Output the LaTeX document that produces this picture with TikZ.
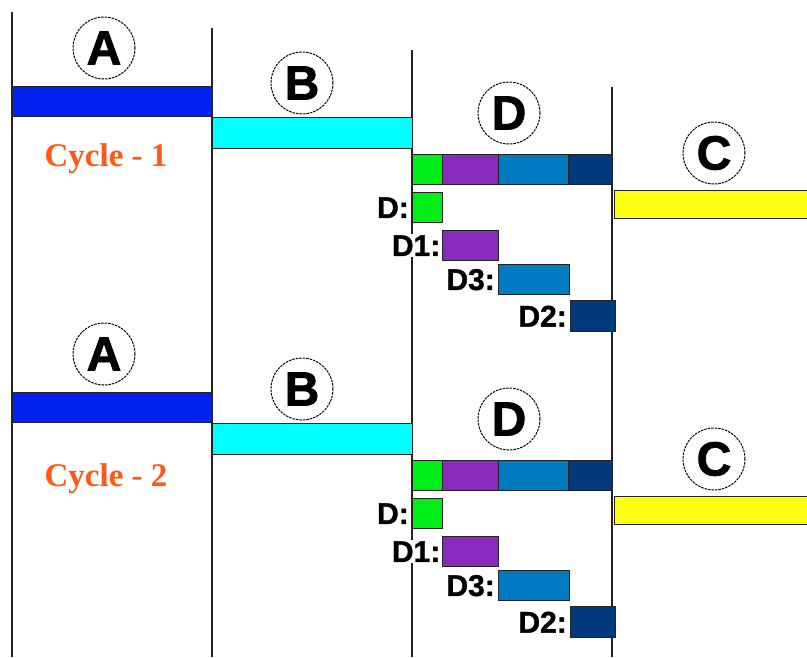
\documentclass[tikz,border=0pt]{standalone}
\usepackage{fontspec}
\setmainfont{Liberation Serif}
\newfontfamily\lsans{Liberation Sans}[BoldFeatures={FakeBold=1.6}]
\newfontfamily\lsanslbl{Liberation Sans}[BoldFeatures={FakeBold=1.2}]
\definecolor{barA}{RGB}{0,34,240}
\definecolor{barB}{RGB}{0,255,255}
\definecolor{barG}{RGB}{0,238,24}
\definecolor{barP}{RGB}{136,42,190}
\definecolor{barM}{RGB}{0,122,192}
\definecolor{barK}{RGB}{0,58,124}
\definecolor{barY}{RGB}{255,255,17}
\definecolor{cyc}{RGB}{255,88,20}
\definecolor{lin}{RGB}{35,35,35}
\tikzset{
  vline/.style={draw=lin, line width=1.3pt},
  bar/.style={draw=lin, line width=1.3pt, rectangle, inner sep=0pt, anchor=north west},
  circ/.style={circle, draw=black, line width=1pt, dash pattern=on 2.5pt off 1pt, minimum size=62pt, inner sep=0pt, font=\lsans\bfseries\fontsize{48}{48}\selectfont},
  lbl/.style={fill=white, inner sep=1pt, anchor=east, font=\lsanslbl\bfseries\fontsize{30}{30}\selectfont},
  cyclbl/.style={text=cyc, anchor=base, inner sep=0pt, font=\bfseries\fontsize{33}{33}\selectfont}
}
\begin{document}
\begin{tikzpicture}[x=1pt,y=-1pt]
\clip (0,0) rectangle (807,657);
\fill[white] (0,0) rectangle (807,657);
% vertical lines
\coordinate (v1t) at (12,12);  \coordinate (v1b) at (12,657);
\coordinate (v2t) at (212,28); \coordinate (v2b) at (212,657);
\coordinate (v3t) at (412,50); \coordinate (v3b) at (412,657);
\coordinate (v4t) at (612,87); \coordinate (v4b) at (612,657);
\draw[vline] (v1t) -- (v1b);
\draw[vline] (v2t) -- (v2b);
\draw[vline] (v3t) -- (v3b);
\draw[vline] (v4t) -- (v4b);
\foreach \c/\dy/\ty in {1/0/0, 2/306/320}{
  % circles
  \node[circ] (cA\c) at (104,48+\dy) {A};
  \node[circ] (cB\c) at (302,83+\dy) {B};
  \node[circ] (cD\c) at (509,113+\dy) {D};
  \node[circ] (cC\c) at (714,153+\dy) {C};
  % main bars
  \node[bar, fill=barA, minimum width=200pt, minimum height=30pt] (bA\c) at (12,86+\dy) {};
  \node[bar, fill=barB, minimum width=200pt, minimum height=31pt] (bB\c) at (212,117+\dy) {};
  \node[bar, fill=barG, minimum width=30pt, minimum height=30pt] (sG\c) at (412,154+\dy) {};
  \node[bar, fill=barP, minimum width=56pt, minimum height=30pt] (sP\c) at (442,154+\dy) {};
  \node[bar, fill=barM, minimum width=70pt, minimum height=30pt] (sM\c) at (498,154+\dy) {};
  \node[bar, fill=barK, minimum width=44pt, minimum height=30pt] (sK\c) at (568,154+\dy) {};
  \node[bar, fill=barY, minimum width=220pt, minimum height=28pt] (bC\c) at (614,190+\dy) {};
  % sub bars
  \node[bar, fill=barG, minimum width=30pt, minimum height=30pt] (d0\c) at (412,192+\dy) {};
  \node[bar, fill=barP, minimum width=56pt, minimum height=30pt] (d1\c) at (442,230+\dy) {};
  \node[bar, fill=barM, minimum width=71pt, minimum height=30pt] (d3\c) at (498,264+\dy) {};
  \node[bar, fill=barK, minimum width=45pt, minimum height=31pt] (d2\c) at (570,300+\dy) {};
  % labels
  \node[lbl] (l0\c) at ([xshift=-2pt]d0\c.west) {D:};
  \node[lbl] (l1\c) at ([xshift=-0.5pt]d1\c.west) {D1:};
  \node[lbl] (l3\c) at ([xshift=-2pt]d3\c.west) {D3:};
  \node[lbl] (l2\c) at ([xshift=-2pt]d2\c.west) {D2:};
  % cycle text
  \node[cyclbl] (cy\c) at (106,166+\ty) {Cycle - \c};
}
\end{tikzpicture}
\end{document}
